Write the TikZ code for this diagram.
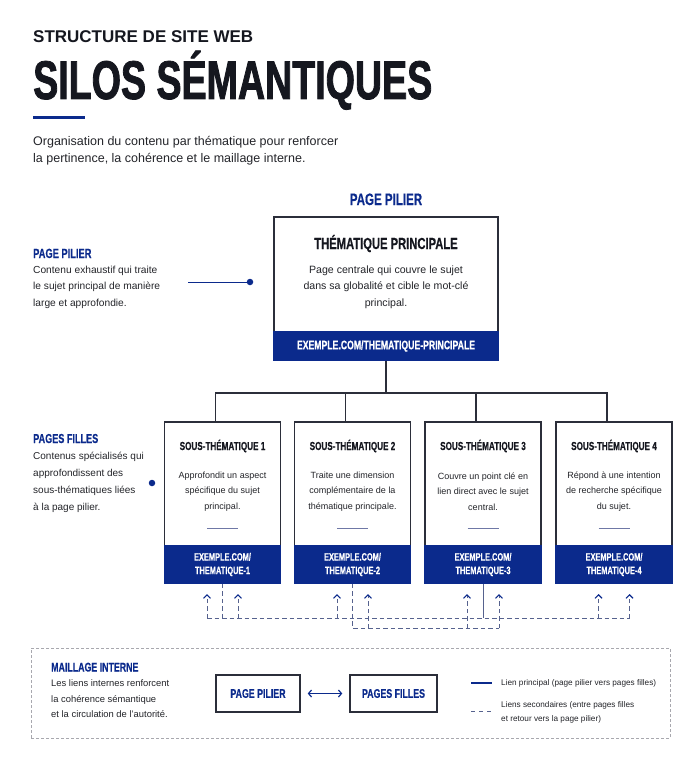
\documentclass[tikz,border=0pt]{standalone}
\usepackage{fontspec}
\setmainfont{Liberation Sans}
\newfontfamily\condfont[FakeStretch=0.7,FakeBold=0.4]{Liberation Sans Bold}
\newfontfamily\titlefont[FakeStretch=0.69,FakeBold=1.5]{Liberation Sans Bold}
\usetikzlibrary{arrows.meta,calc}

\definecolor{navy}{HTML}{0B2A8C}
\definecolor{ink}{HTML}{15171F}
\definecolor{frameline}{HTML}{2B2E3A}
\definecolor{bodytext}{HTML}{232429}
\definecolor{linkgray}{HTML}{56628E}
\definecolor{legendgray}{HTML}{A8A8AE}
\definecolor{rulegray}{HTML}{6F78A6}

\tikzset{
  card/.style={draw=frameline, line width=1.5pt, fill=white, inner sep=0pt},
  urlband/.style={fill=navy, draw=navy, line width=1.5pt, text=white, inner sep=0pt, align=center},
  cardtitle/.style={anchor=base, inner sep=0pt, text=ink},
  cardtext/.style={inner sep=0pt, align=center, text=bodytext},
  sidetext/.style={anchor=west, inner sep=0pt, align=left, text=bodytext},
  sidehead/.style={anchor=base west, inner sep=0pt, text=navy},
  tree/.style={draw=frameline, line width=1.2pt},
  dashlink/.style={draw=linkgray, line width=0.9pt, dash pattern=on 4.5pt off 3pt},
  linkarrow/.style={dashlink, -{Straight Barb[length=3.5pt,width=7pt,line width=1.1pt,color=navy]}},
  minirule/.style={draw=rulegray, line width=1pt},
  dot/.style={circle, fill=navy, inner sep=0pt, minimum size=6.5pt},
  smallbox/.style={draw=frameline, line width=1.5pt, inner sep=0pt, minimum height=37pt, text=navy, font=\condfont\fontsize{12.6}{14}\selectfont}
}

\begin{document}
\begin{tikzpicture}[x=1pt,y=-1pt]
\useasboundingbox (0,0) rectangle (699,768);

% header
\node[anchor=base west, inner sep=0pt, text=ink, font=\bfseries\fontsize{17}{20}\selectfont] (kicker) at (33,43) {STRUCTURE DE SITE WEB};
\node[anchor=base west, inner sep=0pt, text=ink, font=\titlefont\fontsize{54.5}{60}\selectfont] (title) at (33,99) {SILOS SÉMANTIQUES};
\draw[navy, line width=3pt] (33,117.5) -- (85,117.5);
\node[sidetext, font=\fontsize{12.5}{17}\selectfont] (intro) at (33,150.5) {Organisation du contenu par thématique pour renforcer\\la pertinence, la cohérence et le maillage interne.};

% page pilier
\node[cardtitle, text=navy, font=\condfont\fontsize{16.5}{18}\selectfont] (pilierhead) at (386,205) {PAGE PILIER};
\node[card, minimum width=224pt, minimum height=143pt] (pilier) at (386,288.5) {};
\node[urlband, minimum width=224pt, minimum height=28pt, anchor=south, font=\condfont\fontsize{12.4}{14}\selectfont] (pband) at (pilier.south) {EXEMPLE.COM/THEMATIQUE-PRINCIPALE};
\node[cardtitle, font=\condfont\fontsize{16}{18}\selectfont] (ptitle) at (386,249) {THÉMATIQUE PRINCIPALE};
\node[cardtext, font=\fontsize{10.6}{16.5}\selectfont] (ptext) at (386,287) {Page centrale qui couvre le sujet\\dans sa globalité et cible le mot-clé\\principal.};

% left notes
\node[sidehead, font=\condfont\fontsize{13.3}{15}\selectfont] (note1head) at (33,258) {PAGE PILIER};
\node[sidetext, font=\fontsize{10.2}{16.5}\selectfont] (note1) at (33,287) {Contenu exhaustif qui traite\\le sujet principal de manière\\large et approfondie.};
\node[dot] (dot1) at (250,282) {};
\coordinate (lead1) at (188,282);
\draw[navy, line width=1pt] (lead1) -- (dot1);

\node[sidehead, font=\condfont\fontsize{13}{15}\selectfont] (note2head) at (33,443) {PAGES FILLES};
\node[sidetext, font=\fontsize{10}{17}\selectfont] (note2) at (33,482) {Contenus spécialisés qui\\approfondissent des\\sous-thématiques liées\\à la page pilier.};
\node[dot] (dot2) at (152,483) {};

% pages filles
\node[card, minimum width=116pt, minimum height=161pt] (s1) at (222.5,502.5) {};
\node[urlband, minimum width=116pt, minimum height=37pt, anchor=south, font=\condfont\fontsize{10.6}{13.5}\selectfont] (u1) at (s1.south) {EXEMPLE.COM/\\THEMATIQUE-1};
\node[cardtitle, font=\condfont\fontsize{11.6}{13}\selectfont] (t1) at (222.5,450) {SOUS-THÉMATIQUE 1};
\node[cardtext, font=\fontsize{9}{15.5}\selectfont] (d1) at (222.5,491.3) {Approfondit un aspect\\spécifique du sujet\\principal.};
\draw[minirule] ($(s1.center)+(-15.5,25.5)$) -- ++(31,0);

\node[card, minimum width=116pt, minimum height=161pt] (s2) at (352.5,502.5) {};
\node[urlband, minimum width=116pt, minimum height=37pt, anchor=south, font=\condfont\fontsize{10.6}{13.5}\selectfont] (u2) at (s2.south) {EXEMPLE.COM/\\THEMATIQUE-2};
\node[cardtitle, font=\condfont\fontsize{11.6}{13}\selectfont] (t2) at (352.5,450) {SOUS-THÉMATIQUE 2};
\node[cardtext, font=\fontsize{9}{15.5}\selectfont] (d2) at (352.5,491.3) {Traite une dimension\\complémentaire de la\\thématique principale.};
\draw[minirule] ($(s2.center)+(-15.5,25.5)$) -- ++(31,0);

\node[card, minimum width=116pt, minimum height=161pt] (s3) at (483,502.5) {};
\node[urlband, minimum width=116pt, minimum height=37pt, anchor=south, font=\condfont\fontsize{10.6}{13.5}\selectfont] (u3) at (s3.south) {EXEMPLE.COM/\\THEMATIQUE-3};
\node[cardtitle, font=\condfont\fontsize{11.6}{13}\selectfont] (t3) at (483,450) {SOUS-THÉMATIQUE 3};
\node[cardtext, font=\fontsize{9}{15.5}\selectfont] (d3) at (483,491.3) {Couvre un point clé en\\lien direct avec le sujet\\central.};
\draw[minirule] ($(s3.center)+(-15.5,25.5)$) -- ++(31,0);

\node[card, minimum width=116pt, minimum height=161pt] (s4) at (614,502.5) {};
\node[urlband, minimum width=116pt, minimum height=37pt, anchor=south, font=\condfont\fontsize{10.6}{13.5}\selectfont] (u4) at (s4.south) {EXEMPLE.COM/\\THEMATIQUE-4};
\node[cardtitle, font=\condfont\fontsize{11.6}{13}\selectfont] (t4) at (614,450) {SOUS-THÉMATIQUE 4};
\node[cardtext, font=\fontsize{9}{15.5}\selectfont] (d4) at (614,491.3) {Répond à une intention\\de recherche spécifique\\du sujet.};
\draw[minirule] ($(s4.center)+(-15.5,25.5)$) -- ++(31,0);

% main links
\coordinate (hub) at (386,393);
\draw[tree] (pband.south) -- (hub);
\draw[tree] ([xshift=-7pt]s1.north) |- (hub) -| ([xshift=-7pt]s4.north);
\draw[tree] ([xshift=-7pt]s2.north) -- ++(0,-28);
\draw[tree] ([xshift=-7pt]s3.north) -- ++(0,-28);

% secondary links
\coordinate (rail) at (0,618);
\coordinate (rail2) at (0,628);
\draw[dashlink] (u1.south) -- (u1.south |- rail);
\draw[draw=linkgray, line width=0.8pt] (u3.south) -- (u3.south |- rail);
\draw[dashlink] ([xshift=-15.5pt]u1.south |- rail) -- ([xshift=15.5pt]u4.south |- rail);
\draw[dashlink] (u2.south) |- ([xshift=16pt]u3.south |- rail2);
\draw[linkarrow] ([xshift=-15.5pt]u1.south |- rail) -- ++(0,-24);
\draw[linkarrow] ([xshift=15.5pt]u1.south |- rail) -- ++(0,-24);
\draw[linkarrow] ([xshift=-15.5pt]u2.south |- rail) -- ++(0,-24);
\draw[linkarrow] ([xshift=15.5pt]u2.south |- rail2) -- ++(0,-34);
\draw[linkarrow] ([xshift=-16pt]u3.south |- rail2) -- ++(0,-34);
\draw[linkarrow] ([xshift=16pt]u3.south |- rail2) -- ++(0,-34);
\draw[linkarrow] ([xshift=-15.5pt]u4.south |- rail) -- ++(0,-24);
\draw[linkarrow] ([xshift=15.5pt]u4.south |- rail) -- ++(0,-24);

% maillage interne
\node[draw=legendgray, line width=0.8pt, dash pattern=on 3pt off 2pt, inner sep=0pt, minimum width=639pt, minimum height=90pt] (legend) at (350.5,693) {};
\node[sidehead, font=\condfont\fontsize{12.6}{14}\selectfont] (leghead) at (51,671.5) {MAILLAGE INTERNE};
\node[sidetext, font=\fontsize{9.4}{15.5}\selectfont] (legtext) at (51,698.7) {Les liens internes renforcent\\la cohérence sémantique\\et la circulation de l'autorité.};
\node[smallbox, minimum width=84pt] (bp) at (258,693.5) {PAGE PILIER};
\node[smallbox, minimum width=87pt] (bf) at (393.5,693.5) {PAGES FILLES};
\draw[navy, line width=1.2pt, {Straight Barb[length=3pt,width=7pt]}-{Straight Barb[length=3pt,width=7pt]}, shorten <=7pt, shorten >=7pt] (bp) -- (bf);

\coordinate (key1) at (471,683);
\draw[navy, line width=1.2pt] (key1) -- ++(21,0);
\node[sidetext, font=\fontsize{8.2}{14}\selectfont] (keytext1) at (501,683) {Lien principal (page pilier vers pages filles)};
\coordinate (key2) at (471,711);
\draw[draw=linkgray, line width=0.9pt, dash pattern=on 4pt off 4pt] (key2) -- ++(21,0);
\node[sidetext, font=\fontsize{8.2}{14}\selectfont] (keytext2) at (501,712) {Liens secondaires (entre pages filles\\et retour vers la page pilier)};
\end{tikzpicture}
\end{document}
